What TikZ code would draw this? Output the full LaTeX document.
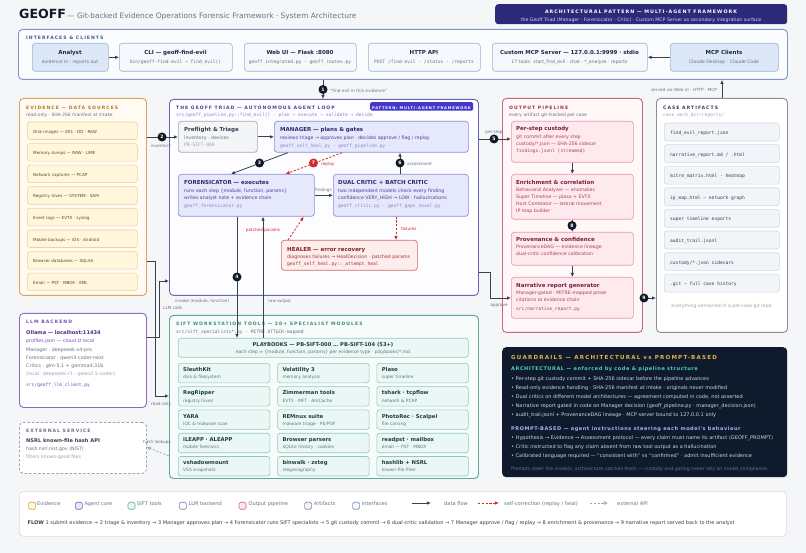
\documentclass[tikz,border=0pt]{standalone}
\usepackage{fontspec}
\setmainfont{DejaVu Sans}
\setmonofont{DejaVu Sans Mono}
\newfontfamily\hdrfont[LetterSpace=22]{DejaVu Sans}
\newfontfamily\subfont[LetterSpace=11]{DejaVu Sans}
\usetikzlibrary{arrows.meta}
\definecolor{bgc}{HTML}{F5F6F8}
\definecolor{titc}{HTML}{111827}
\definecolor{gray5}{HTML}{6B7280}
\definecolor{gray4}{HTML}{9CA3AF}
\definecolor{gray7}{HTML}{374151}
\definecolor{banf}{HTML}{2E2A7A}
\definecolor{banS}{HTML}{C7D2FE}
\definecolor{ifcb}{HTML}{7F95C2}
\definecolor{ifcf}{HTML}{FBFCFE}
\definecolor{ifch}{HTML}{3F5A99}
\definecolor{ifib}{HTML}{9DB0D3}
\definecolor{ififl}{HTML}{F5F8FC}
\definecolor{ifia}{HTML}{DCE7F7}
\definecolor{navy}{HTML}{1E2A4A}
\definecolor{evb}{HTML}{D9A55B}
\definecolor{evf}{HTML}{FFFBF3}
\definecolor{evrb}{HTML}{EED39A}
\definecolor{evrf}{HTML}{FFF6DC}
\definecolor{evh}{HTML}{B7791F}
\definecolor{evt}{HTML}{5B4A2E}
\definecolor{trb}{HTML}{6B63B5}
\definecolor{trf}{HTML}{FDFDFF}
\definecolor{trh}{HTML}{4C3F99}
\definecolor{trib}{HTML}{8A8DD6}
\definecolor{trif}{HTML}{E6E8FB}
\definecolor{trt}{HTML}{2E2A6B}
\definecolor{trl}{HTML}{4B3F99}
\definecolor{trm}{HTML}{8B86C9}
\definecolor{badge}{HTML}{4338CA}
\definecolor{pfb}{HTML}{A3A9B3}
\definecolor{pff}{HTML}{F4F5F7}
\definecolor{hlb}{HTML}{D46A6A}
\definecolor{hlf}{HTML}{FDEDED}
\definecolor{hlt}{HTML}{8B1E1E}
\definecolor{hll}{HTML}{B03030}
\definecolor{redc}{HTML}{D62828}
\definecolor{arrc}{HTML}{374151}
\definecolor{mkc}{HTML}{111827}
\definecolor{extc}{HTML}{9CA3AF}
\definecolor{llb}{HTML}{8E6BBF}
\definecolor{llh}{HTML}{7C4DBA}
\definecolor{llt}{HTML}{4C2A85}
\definecolor{sfb}{HTML}{5FA89B}
\definecolor{sff}{HTML}{F7FCFB}
\definecolor{sfib}{HTML}{8CCABD}
\definecolor{sfif}{HTML}{EAF7F5}
\definecolor{sfh}{HTML}{3B8B80}
\definecolor{sft}{HTML}{1F3D3A}
\definecolor{sfl}{HTML}{5B7B77}
\definecolor{opb}{HTML}{C9657F}
\definecolor{opf}{HTML}{FFF7F8}
\definecolor{opib}{HTML}{E79AAE}
\definecolor{opif}{HTML}{FDE9EE}
\definecolor{oph}{HTML}{A3304F}
\definecolor{opt}{HTML}{7A1F3D}
\definecolor{opl}{HTML}{B0405E}
\definecolor{cab}{HTML}{8A8F98}
\definecolor{carb}{HTML}{D5DAE1}
\definecolor{carf}{HTML}{F1F4F8}
\definecolor{cat}{HTML}{374151}
\definecolor{grf}{HTML}{0F1B2D}
\definecolor{grh}{HTML}{E3B341}
\definecolor{grA}{HTML}{4FD1C5}
\definecolor{grP}{HTML}{A5B4FC}
\definecolor{grt}{HTML}{CBD5E1}
\definecolor{legb}{HTML}{D8DCE2}
\newcommand\mkbox[6]{\pgfmathsetmacro\bxw{#5-#3}\pgfmathsetmacro\bxh{#6-#4}\node[#2,minimum width=\bxw pt,minimum height=\bxh pt,anchor=north west,inner sep=0pt] (#1) at (#3,#4) {};}
\tikzset{
 T/.style={inner sep=0pt, anchor=mid west},
 TC/.style={inner sep=0pt, anchor=mid},
 TE/.style={inner sep=0pt, anchor=mid east},
 hdr/.style={T, font=\hdrfont\bfseries\fontsize{4.6}{5}\selectfont},
 sm/.style={T, font=\fontsize{4.7}{5}\selectfont},
 smc/.style={TC, font=\fontsize{4.6}{5}\selectfont},
 llmt/.style={T, font=\fontsize{4.8}{5}\selectfont},
 mono/.style={T, font=\ttfamily\fontsize{4.6}{5}\selectfont},
 monoc/.style={TC, font=\ttfamily\fontsize{4.6}{5}\selectfont},
 ttl/.style={T, font=\bfseries\fontsize{5.5}{6}\selectfont},
 ttlc/.style={TC, font=\bfseries\fontsize{5.5}{6}\selectfont},
 lbl/.style={TC, font=\fontsize{4.2}{5}\selectfont, text=gray5},
 flow/.style={draw=arrc, line width=0.8pt, -{Latex[length=4pt,width=3.6pt]}},
 redf/.style={draw=redc, line width=0.8pt, dash pattern=on 2.2pt off 1.6pt, -{Latex[length=4pt,width=3.6pt]}},
 extf/.style={draw=extc, line width=0.7pt, dash pattern=on 2.2pt off 1.6pt, -{Triangle[open,length=4pt,width=3.6pt]}},
 mk/.style={circle, fill=mkc, text=white, inner sep=0pt, minimum size=9pt, font=\bfseries\fontsize{4.6}{5}\selectfont},
 ibox/.style={draw=ifib, fill=ififl, rounded corners=3pt, line width=0.6pt},
 iboxa/.style={ibox, fill=ifia},
 evrow/.style={draw=evrb, fill=evrf, rounded corners=2.5pt, line width=0.6pt},
 tribox/.style={draw=trib, fill=trif, rounded corners=3pt, line width=0.7pt},
 sfbox/.style={draw=sfib, fill=sfif, rounded corners=2.5pt, line width=0.6pt},
 opbox/.style={draw=opib, fill=opif, rounded corners=3pt, line width=0.7pt},
 carow/.style={draw=carb, fill=carf, rounded corners=2.5pt, line width=0.6pt},
 legsq/.style={rounded corners=1.5pt, line width=0.6pt, minimum size=7pt, inner sep=0pt, anchor=mid west},
 grb/.style={T, font=\fontsize{5}{6}\selectfont, text=grt},
 legt/.style={T, font=\fontsize{5.1}{6}\selectfont, text=gray5},
}
\begin{document}
\begin{tikzpicture}[x=1pt,y=-1pt]
\fill[bgc] (0,0) rectangle (806,553);
\useasboundingbox (0,0) rectangle (806,553);
% title
\node[T, font=\bfseries\fontsize{12.6}{14}\selectfont, text=titc] (title) at (19,16) {GEOFF};
\node[T, font=\fontsize{7.45}{9}\selectfont, text=gray5] (subtitle) at (67,16) {— Git-backed Evidence Operations Forensic Framework · System Architecture};
% banner
\mkbox{ban}{fill=banf, rounded corners=3pt}{495}{4}{787}{24}
\node[TC, font=\hdrfont\bfseries\fontsize{4.75}{6}\selectfont, text=white] (banT) at (641,11) {ARCHITECTURAL PATTERN — MULTI-AGENT FRAMEWORK};
\node[TC, font=\fontsize{4.7}{5}\selectfont, text=banS] (banSub) at (641,19) {the Geoff Triad (Manager · Forensicator · Critic) · Custom MCP Server as secondary integration surface};
% interfaces
\mkbox{ifc}{draw=ifcb, fill=ifcf, rounded corners=4pt, line width=0.9pt}{18}{29}{787}{79}
\node[hdr, text=ifch] (ifcH) at (26,37) {INTERFACES \& CLIENTS};
\mkbox{analyst}{iboxa}{32}{43}{108}{71}
\node[ttlc, text=navy] (analystT) at (70,52) {Analyst};
\node[smc, text=gray5] (analystS) at (70,61) {evidence in · reports out};
\mkbox{cli}{ibox}{119}{43}{232}{71}
\node[ttlc, text=navy] (cliT) at (175.5,52) {CLI — geoff-find-evil};
\node[monoc, text=gray5] (cliS) at (175.5,61) {bin/geoff-find-evil → find\_evil()};
\mkbox{web}{ibox}{244}{43}{356}{71}
\node[ttlc, text=navy] (webT) at (300,52) {Web UI — Flask :8080};
\node[monoc, text=gray5] (webS) at (300,61) {geoff\_integrated.py · geoff\_routes.py};
\mkbox{http}{ibox}{368}{43}{480}{71}
\node[ttlc, text=navy] (httpT) at (424,52) {HTTP API};
\node[monoc, text=gray5] (httpS) at (424,61) {POST /find-evil · /status · /reports};
\mkbox{mcp}{ibox}{492}{43}{647}{71}
\node[ttlc, text=navy] (mcpT) at (569.5,52) {Custom MCP Server — 127.0.0.1:9999 · stdio};
\node[smc, text=gray5] (mcpS) at (569.5,61) {17 tools: start\_find\_evil · chat · *\_analyze · reports};
\mkbox{mcpc}{iboxa}{670}{43}{778}{71}
\node[ttlc, text=navy] (mcpcT) at (724,52) {MCP Clients};
\node[smc, text=gray5] (mcpcS) at (724,61) {Claude Desktop · Claude Code};
% evidence
\mkbox{ev}{draw=evb, fill=evf, rounded corners=4pt, line width=0.9pt}{19}{98}{146}{295}
\node[hdr, text=evh] (evH) at (26,107) {EVIDENCE — DATA SOURCES};
\node[T, font=\fontsize{4.45}{5}\selectfont, text=gray5] (evS) at (26,114) {read-only · SHA-256 manifest at intake};
\foreach \i/\t in {0/{Disk images — E01 · DD · RAW},1/{Memory dumps — RAW · LiME},2/{Network captures — PCAP},3/{Registry hives — SYSTEM · SAM},4/{Event logs — EVTX · syslog},5/{Mobile backups — iOS · Android},6/{Browser databases — SQLite},7/{Email — PST · MBOX · EML}}{
 \pgfmathsetmacro\yt{121.7+21.6*\i}
 \pgfmathsetmacro\yb{\yt+17.5}
 \mkbox{evr\i}{evrow}{27}{\yt}{137}{\yb}
 \node[T, font=\fontsize{4.15}{5}\selectfont, text=evt] (evrt\i) at (33,\yt+8.75) {\t};
}
% triad
\mkbox{tri}{draw=trb, fill=trf, rounded corners=4pt, line width=0.9pt}{169}{99}{478}{295}
\node[hdr, text=trh] (triH) at (176,107) {THE GEOFF TRIAD — AUTONOMOUS AGENT LOOP};
\node[mono, text=trm] (triS) at (176,114) {src/geoff\_pipeline.py::find\_evil() · plan → execute → validate → decide};
\mkbox{badgeB}{fill=badge, rounded corners=1.5pt}{370}{102}{473}{110.5}
\node[TC, font=\hdrfont\bfseries\fontsize{3.65}{4}\selectfont, text=white] (badgeT) at (421.5,106.3) {PATTERN: MULTI-AGENT FRAMEWORK};
\mkbox{pre}{draw=pfb, fill=pff, rounded corners=3pt, line width=0.7pt}{178}{121}{257}{152}
\node[ttl, text=gray7] (preT) at (184,129) {Preflight \& Triage};
\node[sm, text=gray5] (preL) at (184,137) {inventory · devices};
\node[mono, text=gray4] (preM) at (184,144) {PB-SIFT-000};
\mkbox{mgr}{tribox}{274}{121}{468}{152}
\node[ttl, text=trt] (mgrT) at (280,129) {MANAGER — plans \& gates};
\node[sm, text=trl] (mgrL) at (280,137) {reviews triage → approves plan · decides approve / flag / replay};
\node[mono, text=trm] (mgrM) at (280,144.5) {geoff\_self\_heal.py · geoff\_pipeline.py};
\mkbox{for}{tribox}{178}{174}{314}{216}
\node[ttl, text=trt] (forT) at (184,182) {FORENSICATOR — executes};
\node[sm, text=trl] (forL1) at (184,189.5) {runs each step \{module, function, params\}};
\node[sm, text=trl] (forL2) at (184,197) {writes analyst note + evidence chain};
\node[mono, text=trm] (forM) at (184,205) {geoff\_forensicator.py};
\mkbox{crit}{tribox}{333}{174}{468}{216}
\node[ttl, text=trt] (critT) at (338,182) {DUAL CRITIC + BATCH CRITIC};
\node[sm, text=trl] (critL1) at (338,189.5) {two independent models check every finding};
\node[sm, text=trl] (critL2) at (338,197) {confidence VERY\_HIGH → LOW · hallucinations};
\node[mono, text=trm] (critM) at (338,205) {geoff\_critic.py · geoff\_gaps\_novel.py};
\mkbox{heal}{draw=hlb, fill=hlf, rounded corners=3pt, line width=0.7pt}{281}{240}{417}{270}
\node[ttl, text=hlt] (healT) at (287,249) {HEALER — error recovery};
\node[sm, text=hll] (healL) at (287,256) {diagnoses failures → HealDecision · patched params};
\node[mono, text=hll] (healM) at (287,263) {geoff\_self\_heal.py::\_attempt\_heal};
% LLM
\mkbox{llm}{draw=llb, fill=white, rounded corners=4pt, line width=0.9pt}{19}{313}{146}{407}
\node[hdr, text=llh] (llmH) at (26,321) {LLM BACKEND};
\node[T, font=\bfseries\fontsize{5.1}{6}\selectfont, text=llt] (llmO) at (26,332) {Ollama — localhost:11434};
\node[llmt, text=llh] (llmP) at (26,340) {profiles.json — cloud ⇄ local};
\node[llmt, text=gray5] (llm1) at (26,349) {Manager · deepseek-v4-pro};
\node[llmt, text=gray5] (llm2) at (26,357) {Forensicator · qwen3-coder-next};
\node[llmt, text=gray5] (llm3) at (26,365) {Critics · glm-5.1 + gemma4:31b};
\node[llmt, text=gray4] (llm4) at (26,373) {(local: deepseek-r1 · qwen2.5-coder)};
\node[mono, text=llh] (llmM) at (26,384) {src/geoff\_llm\_client.py};
% external
\mkbox{ext}{draw=extc, fill=white, rounded corners=4pt, line width=0.8pt, dash pattern=on 2.5pt off 2pt}{19}{422}{146}{473}
\node[hdr, text=gray5] (extH) at (26,430) {EXTERNAL SERVICE};
\node[T, font=\bfseries\fontsize{5.1}{6}\selectfont, text=gray7] (extN) at (26,440) {NSRL known-file hash API};
\node[sm, text=gray5] (extU) at (26,448) {hash.nsrl.nist.gov (NIST)};
\node[sm, text=gray4] (extF) at (26,456) {filters known-good files};
% SIFT
\mkbox{sift}{draw=sfb, fill=sff, rounded corners=4pt, line width=0.9pt}{169}{315}{478}{478}
\node[hdr, text=sfh] (siftH) at (176,323) {SIFT WORKSTATION TOOLS — 20+ SPECIALIST MODULES};
\node[mono, text=gray5] (siftS) at (176,331) {src/sift\_specialists*.py · MITRE ATT\&CK-mapped};
\mkbox{pb}{sfbox}{178}{338}{468}{357}
\node[TC, font=\bfseries\fontsize{5.2}{6}\selectfont, text=sft] (pbT) at (323,344) {PLAYBOOKS — PB-SIFT-000 … PB-SIFT-104 (53+)};
\node[TC, font=\fontsize{4.5}{5}\selectfont, text=sfl] (pbS) at (323,351) {each step = \{module, function, params\} per evidence type · playbooks/*.md};
\foreach \r/\c/\a/\b in {
 0/0/{SleuthKit}/{disk \& filesystem}, 0/1/{Volatility 3}/{memory analysis}, 0/2/{Plaso}/{super timeline},
 1/0/{RegRipper}/{registry hives}, 1/1/{Zimmerman tools}/{EVTX · MFT · AmCache}, 1/2/{tshark · tcpflow}/{network \& PCAP},
 2/0/{YARA}/{IOC \& malware scan}, 2/1/{REMnux suite}/{malware triage · PE/PDF}, 2/2/{PhotoRec · Scalpel}/{file carving},
 3/0/{iLEAPP · ALEAPP}/{mobile forensics}, 3/1/{Browser parsers}/{SQLite history · cookies}, 3/2/{readpst · mailbox}/{email — PST · MBOX},
 4/0/{vshadowmount}/{VSS snapshots}, 4/1/{binwalk · zsteg}/{steganography}, 4/2/{hashlib + NSRL}/{known-file filter}}{
 \pgfmathsetmacro\xl{178+99.3*\c}
 \pgfmathsetmacro\xr{\xl+91.5}
 \pgfmathsetmacro\yt{363+23.3*\r}
 \pgfmathsetmacro\yb{\yt+19.5}
 \mkbox{tool\r\c}{sfbox}{\xl}{\yt}{\xr}{\yb}
 \node[T, font=\bfseries\fontsize{5.3}{6}\selectfont, text=sft] (toolT\r\c) at (\xl+5,\yt+5.8) {\a};
 \node[T, font=\fontsize{4.4}{5}\selectfont, text=sfl] (toolS\r\c) at (\xl+5,\yt+13) {\b};
}
% output pipeline
\mkbox{out}{draw=opb, fill=opf, rounded corners=4pt, line width=0.9pt}{502}{98}{642}{332}
\node[hdr, text=oph] (outH) at (509,107) {OUTPUT PIPELINE};
\node[T, font=\fontsize{4.55}{5}\selectfont, text=gray5] (outS) at (509,114) {every artifact git-tracked per case};
\mkbox{cus}{opbox}{511}{121}{633}{162}
\node[ttl, text=opt] (cusT) at (516,128) {Per-step custody};
\node[sm, text=opl] (cus1) at (516,136) {git commit after every step};
\node[sm, text=opl] (cus2) at (516,143) {custody/*.json — SHA-256 sidecar};
\node[mono, text=opl] (cus3) at (516,150) {findings.jsonl (streamed)};
\mkbox{enr}{opbox}{511}{174}{633}{219}
\node[ttl, text=opt] (enrT) at (516,182) {Enrichment \& correlation};
\node[sm, text=opl] (enr1) at (516,189) {Behavioral Analyzer — anomalies};
\node[sm, text=opl] (enr2) at (516,196) {Super Timeline — plaso + EVTX};
\node[sm, text=opl] (enr3) at (516,203) {Host Correlator — lateral movement};
\node[sm, text=opl] (enr4) at (516,209.6) {IP map builder};
\mkbox{prov}{opbox}{511}{232}{633}{265}
\node[ttl, text=opt] (provT) at (516,239) {Provenance \& confidence};
\node[sm, text=opl] (prov1) at (516,246) {ProvenanceDAG — evidence lineage};
\node[sm, text=opl] (prov2) at (516,253) {dual-critic confidence calibration};
\mkbox{nar}{opbox}{511}{277}{633}{318}
\node[ttl, text=opt] (narT) at (516,285) {Narrative report generator};
\node[sm, text=opl] (nar1) at (516,292) {Manager-gated · MITRE-mapped prose};
\node[sm, text=opl] (nar2) at (516,299) {citations to evidence chain};
\node[mono, text=opl] (nar3) at (516,308) {src/narrative\_report.py};
% case artifacts
\mkbox{case}{draw=cab, fill=white, rounded corners=4pt, line width=0.9pt}{656}{98}{787}{332}
\node[hdr, text=gray7] (caseH) at (663,107) {CASE ARTIFACTS};
\node[mono, text=gray4] (caseS) at (663,114) {case\_work\_dir/reports/};
\foreach \i/\t in {0/{find\_evil\_report.json},1/{narrative\_report.md / .html},2/{mitre\_matrix.html · heatmap},3/{ip\_map.html — network graph},4/{super timeline exports},5/{audit\_trail.jsonl},6/{custody/*.json sidecars},7/{.git — full case history}}{
 \pgfmathsetmacro\yt{122.7+21.6*\i}
 \pgfmathsetmacro\yb{\yt+18}
 \mkbox{car\i}{carow}{664}{\yt}{779}{\yb}
 \node[mono, text=cat] (cart\i) at (670,\yt+9) {\t};
}
\node[TC, font=\fontsize{4.65}{5}\selectfont, text=gray4] (caseF) at (721.5,305) {everything versioned in a per-case git repo};
% guardrails
\mkbox{gr}{fill=grf, rounded corners=4pt}{502}{347}{787}{477}
\node[T, font=\hdrfont\bfseries\fontsize{5.55}{6}\selectfont, text=grh] (grH) at (511,357) {GUARDRAILS — ARCHITECTURAL vs PROMPT-BASED};
\node[T, font=\subfont\bfseries\fontsize{5}{6}\selectfont, text=grA] (grA) at (511,368) {ARCHITECTURAL — enforced by code \& pipeline structure};
\node[grb] (grA1) at (511,377.7) {• Per-step git custody commit + SHA-256 sidecar before the pipeline advances};
\node[grb] (grA2) at (511,386.7) {• Read-only evidence handling · SHA-256 manifest at intake · originals never modified};
\node[grb] (grA3) at (511,395.7) {• Dual critics on different model architectures — agreement computed in code, not asserted};
\node[grb] (grA4) at (511,404.7) {• Narrative report gated in code on Manager decision (geoff\_pipeline.py · manager\_decision.json)};
\node[grb] (grA5) at (511,413.3) {• audit\_trail.jsonl + ProvenanceDAG lineage · MCP server bound to 127.0.0.1 only};
\node[T, font=\subfont\bfseries\fontsize{5}{6}\selectfont, text=grP] (grP) at (511,427.3) {PROMPT-BASED — agent instructions steering each model's behaviour};
\node[grb] (grP1) at (511,436.7) {• Hypothesis → Evidence → Assessment protocol — every claim must name its artifact (GEOFF\_PROMPT)};
\node[grb] (grP2) at (511,445.7) {• Critic instructed to flag any claim absent from raw tool output as a hallucination};
\node[grb] (grP3) at (511,454.7) {• Calibrated language required — ``consistent with'' vs ``confirmed'' · admit insufficient evidence};
\node[T, font=\fontsize{4.7}{5}\selectfont, text=gray5] (grF) at (511,467.7) {Prompts steer the models; architecture catches them — custody and gating never rely on model compliance.};
% legend
\mkbox{leg}{draw=legb, fill=white, rounded corners=4pt, line width=0.7pt}{19}{491}{786}{536}
\node[legsq, draw=evb, fill=evrf] (lq1) at (28.3,503) {};
\node[legt] (lt1) at (37,503) {Evidence};
\node[legsq, draw=trb, fill=trif] (lq2) at (75,503) {};
\node[legt] (lt2) at (84.3,503) {Agent core};
\node[legsq, draw=sfb, fill=sfif] (lq3) at (127.7,503) {};
\node[legt] (lt3) at (137,503) {SIFT tools};
\node[legsq, draw=llb, fill=white] (lq4) at (179,503) {};
\node[legt] (lt4) at (188.3,503) {LLM backend};
\node[legsq, draw=opb, fill=opif] (lq5) at (238.7,503) {};
\node[legt] (lt5) at (248.3,503) {Output pipeline};
\node[legsq, draw=cab, fill=carf] (lq6) at (304.3,503) {};
\node[legt] (lt6) at (313.7,503) {Artifacts};
\node[legsq, draw=ifcb, fill=ififl] (lq7) at (352.3,503) {};
\node[legt] (lt7) at (361.7,503) {Interfaces};
\coordinate (la1) at (412,503); \coordinate (la2) at (431,503);
\draw[flow] (la1) -- (la2);
\node[legt] (lt8) at (444,503) {data flow};
\coordinate (lb1) at (478,503); \coordinate (lb2) at (499,503);
\draw[redf] (lb1) -- (lb2);
\node[legt] (lt9) at (504,503) {self-correction (replay / heal)};
\coordinate (lc1) at (590,503); \coordinate (lc2) at (608,503);
\draw[extf] (lc1) -- (lc2);
\node[legt] (lt10) at (617,503) {external API};
\node[T, font=\fontsize{5.05}{6}\selectfont, text=gray7] (flow) at (27.5,522) {\textbf{FLOW} 1 submit evidence → 2 triage \& inventory → 3 Manager approves plan → 4 Forensicator runs SIFT specialists → 5 git custody commit → 6 dual-critic validation → 7 Manager approve / flag / replay → 8 enrichment \& provenance → 9 narrative report served back to the analyst};
% ---------- connectors ----------
\draw[flow] (analyst.east) -- (cli.west);
\draw[flow] (mcpc.west) -- (mcp.east);
\coordinate (c1) at (323,89.5);
\draw[flow] (c1 |- ifc.south) -- (c1 |- tri.north);
\node[T, font=\fontsize{4.3}{5}\selectfont, text=gray5] (c1L) at (330,89.5) {``find evil in this evidence''};
\coordinate (cs) at (722,89);
\draw[flow] (cs |- case.north) -- (cs |- ifc.south);
\node[TE, font=\fontsize{4.2}{5}\selectfont, text=gray5] (csL) at (717,89) {served via Web UI · HTTP · MCP};
\coordinate (c2) at (162,137);
\draw[flow] (ev.east |- c2) -- (pre.west |- c2);
\node[lbl] (c2L) at (161,145) {inventory};
\draw[flow] (pre.east) -- (mgr.west);
\draw[flow] ([xshift=14pt]mgr.south west) -- ([xshift=53pt]for.north west);
\coordinate (c3) at (259.5,163);
\draw[redf] ([xshift=68pt]mgr.south west) -- ([xshift=-29pt]for.north east);
\coordinate (c7) at (313.5,163);
\node[T, font=\fontsize{4.2}{5}\selectfont, text=redc] (c7L) at (321,163) {replay};
\coordinate (c6) at (400,163);
\draw[flow] (c6 |- crit.north) -- (c6 |- mgr.south);
\node[T, font=\fontsize{4.2}{5}\selectfont, text=gray5] (c6L) at (407,163) {assessment};
\draw[flow] (for.east) -- (crit.west);
\node[lbl] (fdL) at (323.5,189) {findings};
\coordinate (cf) at (396,228);
\draw[redf] (cf |- crit.south) -- (cf |- heal.north);
\node[T, font=\fontsize{4.2}{5}\selectfont, text=redc] (cfL) at (401,228) {failures};
\draw[redf] ([xshift=7pt]heal.north west) -- ([xshift=-11pt]for.south east);
\node[TC, font=\fontsize{4.2}{5}\selectfont, text=redc] (cpL) at (263,229) {patched params};
\coordinate (c4) at (237,277);
\draw[flow] (c4 |- for.south) -- (c4 |- pb.north);
\coordinate (craw) at (263,300);
\draw[flow] (craw |- pb.north) -- (craw |- for.south);
\node[T, font=\fontsize{4.2}{5}\selectfont, text=gray5] (invL) at (175,300) {invoke (module, function)};
\node[T, font=\fontsize{4.2}{5}\selectfont, text=gray5] (rawL) at (268,300) {raw output};
\coordinate (cl1) at (159,337); \coordinate (cl2) at (159,281);
\draw[flow] (llm.east |- cl1) -| (cl2) -- (tri.west |- cl2);
\node[T, font=\fontsize{4.2}{5}\selectfont, text=gray5] (clL) at (163,307) {LLM calls};
\coordinate (cr1) at (155,261); \coordinate (cr2) at (155,396);
\draw[flow] (ev.east |- cr1) -| (cr2) -- (sift.west |- cr2);
\node[T, font=\fontsize{4.2}{5}\selectfont, text=gray5] (crL) at (151,402.5) {read-only};
\coordinate (ch1) at (169,456); \coordinate (ch2) at (146,447);
\draw[extf] (sift.west |- ch1) -- (ext.east |- ch2);
\node[T, font=\fontsize{4.2}{5}\selectfont, text=gray5] (chL) at (143,441) {hash lookups};
\coordinate (c5) at (494,139);
\draw[flow] (tri.east |- c5) -- (cus.west |- c5);
\node[lbl] (c5L) at (494,131) {per-step};
\coordinate (ca1) at (490,272); \coordinate (ca2) at (490,298);
\draw[flow] (tri.east |- ca1) -| (ca2) -- (nar.west |- ca2);
\node[lbl] (caL) at (499,303.5) {approve};
\draw[flow] (cus.south) -- (enr.north);
\draw[flow] (enr.south) -- (prov.north);
\coordinate (c8) at (572,225.5);
\draw[flow] (prov.south) -- (nar.north);
\coordinate (c9) at (644,298);
\draw[flow] (out.east |- c9) -- (case.west |- c9);
% markers
\node[mk] (m1) at (c1) {1};
\node[mk] (m2) at (c2) {2};
\node[mk] (m3) at (c3) {3};
\node[mk] (m4) at (c4) {4};
\node[mk] (m5) at (c5) {5};
\node[mk] (m6) at (c6) {6};
\node[mk, fill=redc] (m7) at (c7) {7};
\node[mk] (m8) at (c8) {8};
\node[mk] (m9) at (c9) {9};
\end{tikzpicture}
\end{document}
